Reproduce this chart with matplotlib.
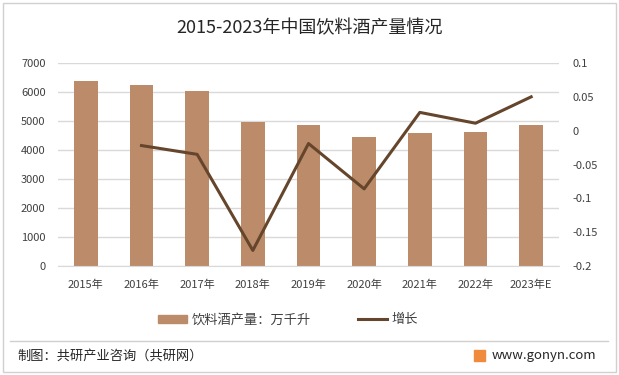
import numpy as np
import matplotlib
matplotlib.use('Agg')
import matplotlib.pyplot as plt
from matplotlib.patches import Rectangle
from matplotlib.lines import Line2D

plt.rcParams['font.family'] = ['Noto Sans CJK SC', 'DejaVu Sans']

years = ['2015年', '2016年', '2017年', '2018年', '2019年', '2020年', '2021年', '2022年', '2023年E']
output = [6380, 6240, 6030, 4970, 4860, 4450, 4590, 4620, 4860]
# growth, first year has no value
growth = [np.nan, -0.022, -0.035, -0.177, -0.019, -0.086, 0.027, 0.011, 0.050]

barColor = '#BC8C6A'
lineColor = '#65462C'
gridColor = '#D9D9D9'
textColor = '#404040'

W, H = 619, 375
fig = plt.figure(figsize=(W/100, H/100), dpi=100)

# outer frame
fig.patches.append(Rectangle((3/W, 3/H), 1-6/W, 1-6/H, transform=fig.transFigure,
                             fill=False, edgecolor='#D0D0D0', lw=1))

ax = fig.add_axes([58/W, 1-266/H, 501/W, 203/H])
x = np.arange(len(years))
ax.bar(x, output, width=0.42, color=barColor, zorder=2)
ax.set_ylim(0, 7000)
ax.set_yticks(range(0, 7001, 1000))
ax.set_xlim(-0.5, len(years)-0.5)
ax.set_xticks(x)
ax.set_xticklabels(years)
ax.grid(axis='y', color=gridColor, lw=1, zorder=0)
ax.set_axisbelow(True)
for s in ['top', 'right', 'left']:
    ax.spines[s].set_visible(False)
ax.spines['bottom'].set_color(gridColor)
ax.tick_params(length=0, labelsize=8, colors=textColor)
ax.tick_params(axis='x', pad=10)
ax.tick_params(axis='y', pad=9)

ax2 = ax.twinx()
ax2.plot(x, growth, color=lineColor, lw=2.2, zorder=3)
ax2.set_ylim(-0.2, 0.1)
ax2.set_yticks([-0.2, -0.15, -0.1, -0.05, 0, 0.05, 0.1])
ax2.set_yticklabels(['-0.2', '-0.15', '-0.1', '-0.05', '0', '0.05', '0.1'])
for s in ['top', 'right', 'left', 'bottom']:
    ax2.spines[s].set_visible(False)
ax2.tick_params(length=0, labelsize=8, colors=textColor, pad=10)

fig.text(0.5, 1-28/H, '2015-2023年中国饮料酒产量情况', ha='center', va='center',
         fontsize=13, color='#262626')

handles = [Rectangle((0, 0), 1, 1, color=barColor),
           Line2D([0], [0], color=lineColor, lw=2.2)]
fig.legend(handles, ['饮料酒产量：万千升', '增长'], loc='center', ncol=2,
           bbox_to_anchor=(288/W, 1-320/H), frameon=False, fontsize=9.5,
           handlelength=2.2, handleheight=0.6, columnspacing=3.6, handletextpad=0.3,
           labelcolor=textColor)

# footer
fig.add_artist(Line2D([10/W, 608/W], [1-341/H, 1-341/H], color='#D0D0D0', lw=1,
                      transform=fig.transFigure))
fig.text(17/W, 1-356/H, '制图：共研产业咨询（共研网）', ha='left', va='center',
         fontsize=9.5, color='#262626')
fig.patches.append(Rectangle((474/W, 1-361/H), 11/W, 11/H, transform=fig.transFigure,
                             color='#F08A3C'))
fig.text(492/W, 1-356/H, 'www.gonyn.com', ha='left', va='center',
         fontsize=9.5, color='#262626')

fig.savefig('out.png', dpi=100)
